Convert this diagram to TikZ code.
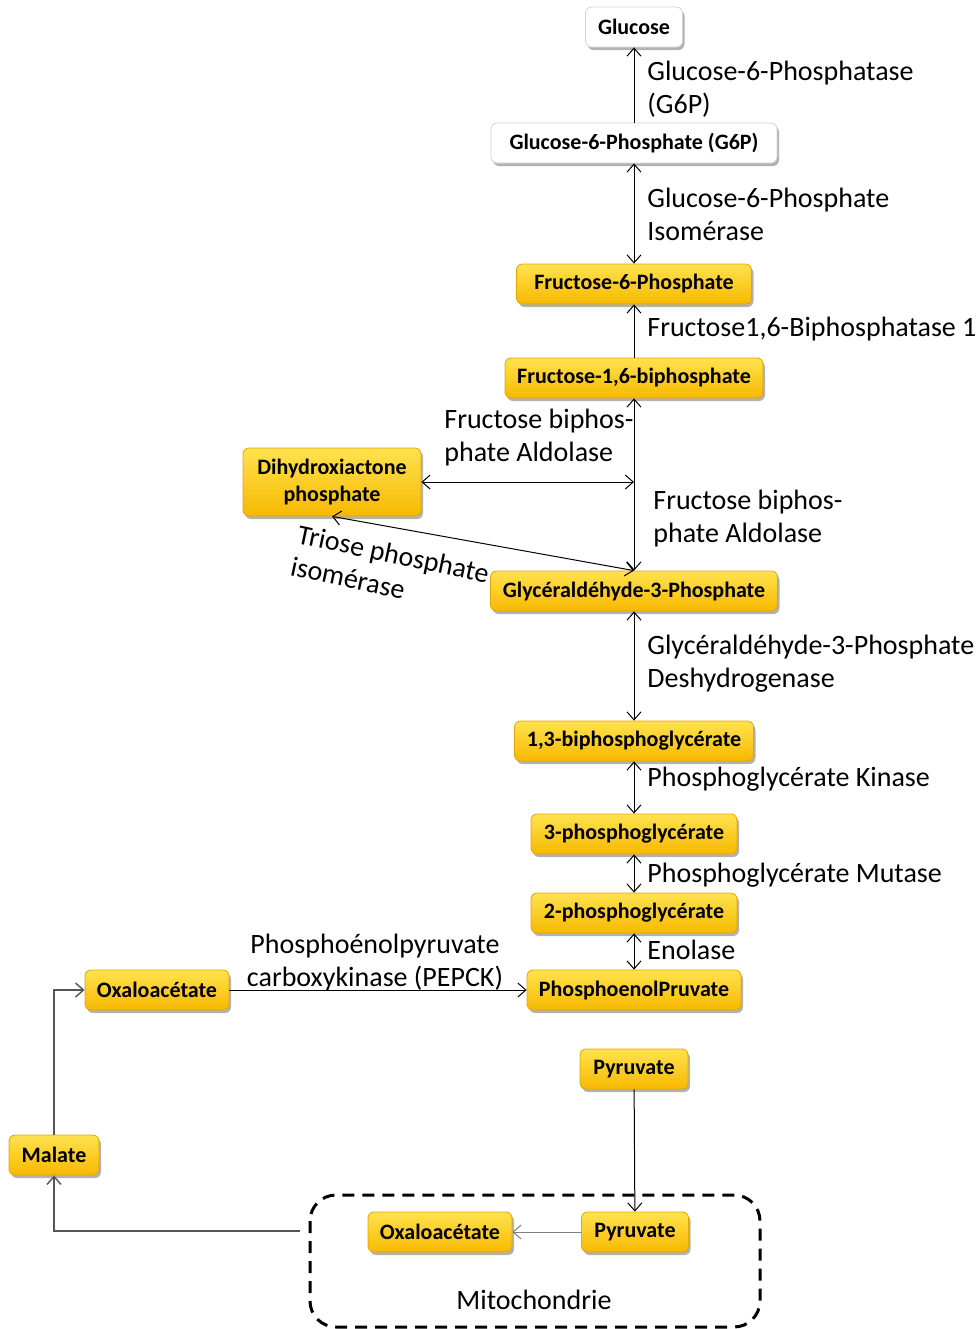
\documentclass[tikz,border=0pt]{standalone}
\usepackage{fontspec}
\setmainfont{Carlito}
\usetikzlibrary{shadows,arrows.meta}
\definecolor{goldtop}{HTML}{FFE24F}
\definecolor{goldbot}{HTML}{F7B900}
\definecolor{goldline}{HTML}{E2A600}
\definecolor{linkgray}{HTML}{555555}
\tikzset{
  mol/.style={rounded corners=3pt, draw=goldline, top color=goldtop, bottom color=goldbot,
    minimum height=20pt, inner sep=0pt, align=center,
    font=\bfseries\fontsize{11}{13.5}\selectfont,
    drop shadow={shadow xshift=1pt, shadow yshift=-1.5pt, opacity=0.3, fill=black}},
  molw/.style={mol, draw=gray!35, top color=white, bottom color=white},
  enz/.style={font=\fontsize{14}{16.5}\selectfont, align=left, anchor=west, inner sep=0pt},
  link/.style={line width=0.5pt},
  >={Straight Barb[length=4pt,width=7pt]},
}
\begin{document}
\begin{tikzpicture}[x=0.5pt,y=-0.5pt]
\useasboundingbox (0,0) rectangle (978,1329);

% molecules
\node[molw, minimum width=48.5pt] (glc) at (634,27) {Glucose};
\node[molw, minimum width=143pt] (g6p) at (634,143) {Glucose-6-Phosphate (G6P)};
\node[mol, minimum width=117.5pt] (f6p) at (634,284) {Fructose-6-Phosphate};
\node[mol, minimum width=129pt] (f16bp) at (634,378) {Fructose-1,6-biphosphate};
\node[mol, minimum width=89pt, minimum height=34pt] (dhap) at (332,482) {Dihydroxiactone\\phosphate};
\node[mol, minimum width=143.5pt] (g3p) at (634,591) {Glycéraldéhyde-3-Phosphate};
\node[mol, minimum width=119.5pt] (bpg) at (634,741) {1,3-biphosphoglycérate};
\node[mol, minimum width=103pt] (pga) at (634,834) {3-phosphoglycérate};
\node[mol, minimum width=103pt] (pgb) at (634,913) {2-phosphoglycérate};
\node[mol, minimum width=107pt] (pep) at (634,990) {PhosphoenolPruvate};
\node[mol, minimum width=72pt] (oaa) at (157,990) {Oxaloacétate};
\node[mol, minimum width=54pt] (pyr) at (634,1069) {Pyruvate};
\node[mol, minimum width=45pt] (mal) at (54,1155) {Malate};
\node[mol, minimum width=72pt] (oaam) at (440,1232) {Oxaloacétate};
\node[mol, minimum width=53.5pt] (pyrm) at (635,1232) {Pyruvate};

% mitochondrie
\draw[dashed, dash pattern=on 6pt off 4pt, line width=1.5pt, rounded corners=13pt]
  (310,1195) rectangle (760,1327);
\node[inner sep=0pt, font=\fontsize{14}{16}\selectfont] (mito) at (534,1300) {Mitochondrie};

% enzymes
\node[enz] (e1) at (647,89.5) {Glucose-6-Phosphatase\\(G6P)};
\node[enz] (e2) at (647,214.5) {Glucose-6-Phosphate\\Isomérase};
\node[enz] (e3) at (647,329) {Fructose1,6-Biphosphatase 1};
\node[enz] (e4) at (444,438) {Fructose biphos-\\phate Aldolase};
\node[enz] (e5) at (653,518.5) {Fructose biphos-\\phate Aldolase};
\node[enz, anchor=center, rotate=-12] (e6) at (390,570) {Triose phosphate\\isomérase};
\node[enz] (e7) at (647,663.5) {Glycéraldéhyde-3-Phosphate\\Deshydrogenase};
\node[enz] (e8) at (647,779) {Phosphoglycérate Kinase};
\node[enz] (e9) at (647,875) {Phosphoglycérate Mutase};
\node[enz] (e10) at (647,950) {Enolase};
\node[enz, anchor=center, align=center] (e11) at (375,962.5) {Phosphoénolpyruvate\\carboxykinase (PEPCK)};

% reactions
\coordinate (fork) at (634,482);
\coordinate (exit) at (300,1231);
\draw[link,->] (g6p) -- (glc);
\draw[link,<->] (g6p) -- (f6p);
\draw[link,->] (f16bp) -- (f6p);
\draw[link,<->] (f16bp) -- (g3p);
\draw[link,<->] (dhap.east) -- (fork);
\draw[link,<->] (dhap.south) -- (g3p.north);
\draw[link,<->] (g3p) -- (bpg);
\draw[link,<->] (bpg) -- (pga);
\draw[link,<->] (pga) -- (pgb);
\draw[link,<->] (pgb) -- (pep);
\draw[link,->] (oaa) -- (pep);
\draw[link,->] (pyr) -- (pyrm);
\draw[link,->,gray] (pyrm) -- (oaam);
\draw[->,linkgray,line width=0.7pt] (exit) -| (mal.south);
\draw[->,linkgray,line width=0.7pt] (mal.north) |- (oaa.west);

\end{tikzpicture}
\end{document}
